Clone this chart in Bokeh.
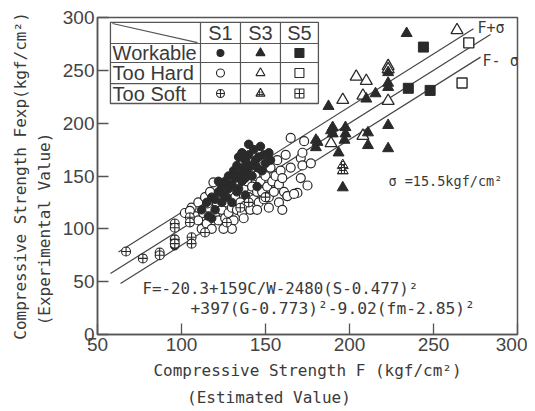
from bokeh.plotting import figure
from bokeh.models import Label, Range1d, FixedTicker
from bokeh.embed import file_html
from bokeh.resources import INLINE

# ---------------- data ----------------
x_ticks = [50, 100, 150, 200, 250, 300]
y_ticks = [0, 50, 100, 150, 200, 250, 300]

sigma = 15.5
line_x_center = [57.7, 283.9]
line_x_plus = [62.5, 273.8]
line_x_minus = [63.7, 278.0]

# S1 (circles)
s1_work_x = [96, 112, 115, 118, 120, 122, 124, 125, 126, 128, 128, 130, 131, 132, 133, 134, 135, 136, 137, 138,
             139, 140, 141, 142, 143, 144, 145, 146, 147, 148, 150, 152, 120, 124, 127, 130, 133, 118, 122, 145,
             138, 140, 136, 134, 116, 138, 153, 149]
s1_work_y = [84, 118, 125, 130, 128, 135, 140, 132, 145, 138, 150, 142, 155, 148, 160, 138, 152, 145, 158, 165,
             155, 170, 160, 150, 175, 165, 158, 168, 178, 155, 162, 172, 118, 125, 130, 125, 135, 110, 145, 140,
             148, 180, 172, 168, 112, 132, 165, 170]

s1_hard_x = [102, 106, 108, 110, 110, 112, 113, 114, 115, 116, 117, 118, 119, 120, 121, 122, 123, 124, 125, 126,
             127, 128, 129, 130, 131, 132, 133, 134, 135, 136, 137, 138, 139, 140, 141, 142, 143, 144, 145, 146,
             147, 148, 149, 150, 151, 152, 153, 154, 155, 156, 157, 158, 159, 160, 161, 162, 163, 165, 165, 169,
             171, 171, 172, 172, 173, 175, 177, 130, 125, 137, 145, 152, 158, 160, 135, 140, 105, 115.5, 163, 167]
s1_hard_y = [115, 120, 112, 108, 125, 100, 115, 130, 105, 120, 135, 100, 144, 112, 125, 108, 130, 118, 140, 110,
             125, 115, 135, 120, 108, 130, 118, 145, 125, 115, 138, 122, 145, 130, 118, 140, 128, 150, 135, 125,
             145, 135, 128, 150, 140, 130, 158, 145, 135, 150, 165, 142, 155, 148, 135, 170, 131, 158, 186, 134,
             148, 167, 160, 172, 183, 141, 162, 100, 100, 110, 118, 120, 125, 118, 160, 158, 117, 124, 131, 133]

s1_soft_x = [67, 77, 87, 87, 96, 96, 106, 106, 114, 127, 96, 96, 105, 105, 135, 140, 150]
s1_soft_y = [78.5, 72, 77.6, 75, 90, 86, 92, 86, 96.5, 106, 105, 101, 111, 106, 120, 125, 130]

# S3 (triangles)
s3_work_x = [234, 187.5, 210, 215.5, 223, 223, 223, 223, 211, 223, 197.6, 197.6, 190, 190, 193.5, 180, 180, 196,
             211, 197, 189, 181]
s3_work_y = [285, 216, 223, 228, 234, 238, 248, 198, 179, 176, 196, 190, 196, 190, 172, 184, 177, 139,
             191, 184, 193, 182]

s3_hard_x = [264, 223, 223, 204, 210, 196, 208, 189, 208, 223]
s3_hard_y = [288, 254, 251, 244, 240, 222, 226, 181, 188, 221]

s3_soft_x = [196, 196]
s3_soft_y = [160, 155]

# S5 (squares)
s5_work_x = [244, 235, 248]
s5_work_y = [272, 233, 231]

s5_hard_x = [271, 267]
s5_hard_y = [276, 238]

# legend table
table_rows = ["Workable", "Too Hard", "Too Soft"]
table_cols = ["S1", "S3", "S5"]

# axis titles
x_title = ["Compressive Strength F (kgf/cm²)", "(Estimated Value)"]
y_title = ["Compressive Strength Fexp(kgf/cm²)", "(Experimental Value)"]

# ---------------- styling / layout ----------------
INK = "#2a2a2a"
TXT = "#3a3a3a"
MONO = "DejaVu Sans Mono"
SANS = "Liberation Sans"
NB = "\u00a0"

p = figure(width=527, height=411, min_border_left=97, min_border_right=10,
           min_border_top=17, min_border_bottom=77,
           x_range=Range1d(50, 300), y_range=Range1d(0, 300),
           output_backend="svg", toolbar_location=None)
p.grid.visible = False
p.outline_line_color = "#555555"
p.outline_line_width = 1.5
p.background_fill_color = "white"
p.border_fill_color = "white"

for ax, ticks in ((p.xaxis, x_ticks), (p.yaxis, y_ticks)):
    ax.ticker = FixedTicker(ticks=ticks)
    ax.major_tick_in = 11
    ax.major_tick_out = 0
    ax.minor_tick_line_color = None
    ax.axis_line_color = "#555555"
    ax.axis_line_width = 1.5
    ax.major_tick_line_color = "#555555"
    ax.major_tick_line_width = 1.3
    ax.major_label_text_font = SANS
    ax.major_label_text_font_size = "19px"
    ax.major_label_text_color = "#444444"
    ax.axis_label_text_font = MONO
    ax.axis_label_text_font_style = "normal"
    ax.axis_label_text_color = TXT
p.xaxis.major_label_standoff = 3
p.yaxis.major_label_standoff = 3

p.xaxis.axis_label = x_title[0] + "\n" + x_title[1] + NB * 8
p.xaxis.axis_label_text_font_size = "16px"
p.xaxis.axis_label_text_line_height = 1.45
p.xaxis.axis_label_standoff = 7
p.yaxis.axis_label = y_title[0] + "\n" + y_title[1] + NB * 11
p.yaxis.axis_label_text_font_size = "16px"
p.yaxis.axis_label_text_line_height = 1.25
p.yaxis.axis_label_standoff = 6

# regression lines F, F+sigma, F-sigma
p.line(line_x_center, line_x_center, line_color="#444444", line_width=1.2)
p.line(line_x_plus, [v + sigma for v in line_x_plus], line_color="#444444", line_width=1.2)
p.line(line_x_minus, [v - sigma for v in line_x_minus], line_color="#444444", line_width=1.2)

# points
p.scatter(s1_hard_x, s1_hard_y, marker="circle", size=9, fill_color="white", line_color=INK, line_width=1.2)
p.scatter(s1_work_x, s1_work_y, marker="circle", size=8.5, fill_color=INK, line_color=INK)
p.scatter(s1_soft_x, s1_soft_y, marker="circle_cross", size=9, fill_color="white", line_color=INK, line_width=1.1)
p.scatter(s3_hard_x, s3_hard_y, marker="triangle", size=12, fill_color="white", line_color=INK, line_width=1.3)
p.scatter(s3_work_x, s3_work_y, marker="triangle", size=11, fill_color=INK, line_color=INK)
p.scatter(s3_soft_x, s3_soft_y, marker="triangle", size=11, fill_color="white", line_color=INK,
          hatch_pattern="cross", hatch_color=INK, hatch_scale=3, hatch_weight=1.2)
p.scatter(s5_hard_x, s5_hard_y, marker="square", size=10, fill_color="white", line_color=INK, line_width=1.4)
p.scatter(s5_work_x, s5_work_y, marker="square", size=10, fill_color=INK, line_color=INK)

# legend table geometry (data coordinates of the box in the upper left)
tx = [57.7, 111.3, 135.1, 158.9, 181.5]
ty = [295.3, 275.4, 257.4, 237.5, 218.6]
p.quad(left=[tx[0]], right=[tx[-1]], top=[ty[0]], bottom=[ty[-1]], fill_color="white",
       line_color="#555555", line_width=1.3)
hx0, hx1, hy0, hy1 = [], [], [], []
for yv in ty[1:-1]:
    hx0.append(tx[0]); hx1.append(tx[-1]); hy0.append(yv); hy1.append(yv)
for xv in tx[1:-1]:
    hx0.append(xv); hx1.append(xv); hy0.append(ty[0]); hy1.append(ty[-1])
hx0.append(58.9); hy0.append(294.3); hx1.append(109.5); hy1.append(276.3)
p.segment(hx0, hy0, hx1, hy1, line_color="#555555", line_width=1.2)

col_c = [(tx[i] + tx[i + 1]) / 2 for i in range(1, 4)]
row_c = [(ty[i] + ty[i + 1]) / 2 for i in range(1, 4)]
for c, name in zip(col_c, table_cols):
    p.add_layout(Label(x=c, y=(ty[0] + ty[1]) / 2, text=name, text_font=SANS,
                       text_font_size="20px", text_color=TXT, text_align="center",
                       text_baseline="middle"))
for r, name in zip(row_c, table_rows):
    p.add_layout(Label(x=tx[0] + 1.3, y=r, text=name, text_font=SANS,
                       text_font_size="20px", text_color=TXT, text_align="left",
                       text_baseline="middle"))

leg_specs = [
    (0, 0, "circle", 7, INK, None), (0, 1, "circle", 8, "white", None), (0, 2, "circle_cross", 8, "white", None),
    (1, 0, "triangle", 9, INK, None), (1, 1, "triangle", 9, "white", None), (1, 2, "triangle", 9, "white", "cross"),
    (2, 0, "square", 9, INK, None), (2, 1, "square", 9, "white", None), (2, 2, "square_cross", 9, "white", None),
]
for ci, ri, mk, sz, fc, hp in leg_specs:
    kw = dict(hatch_pattern=hp, hatch_color=INK, hatch_scale=2.5) if hp else {}
    p.scatter([col_c[ci]], [row_c[ri]], marker=mk, size=sz, fill_color=fc, line_color=INK,
              line_width=1.1, **kw)

# annotations
p.add_layout(Label(x=276.2, y=289.6, text="F+σ", text_font=MONO, text_font_size="15px",
                   text_color=TXT, text_baseline="middle"))
p.add_layout(Label(x=279.2, y=259.3, text="F- σ", text_font=MONO, text_font_size="15px",
                   text_color=TXT, text_baseline="middle"))
p.add_layout(Label(x=223.2, y=145.7, text="σ =15.5kgf/cm²", text_font=MONO, text_font_size="13.5px",
                   text_color=TXT, text_baseline="middle"))
p.add_layout(Label(x=76.8, y=43.5, text="F=-20.3+159C/W-2480(S-0.477)²", text_font=MONO,
                   text_font_size="15.8px", text_color=TXT, text_baseline="middle"))
p.add_layout(Label(x=105.4, y=24.6, text="+397(G-0.773)²-9.02(fm-2.85)²", text_font=MONO,
                   text_font_size="16.3px", text_color=TXT, text_baseline="middle"))

open("out.html", "w").write(file_html(p, INLINE))
